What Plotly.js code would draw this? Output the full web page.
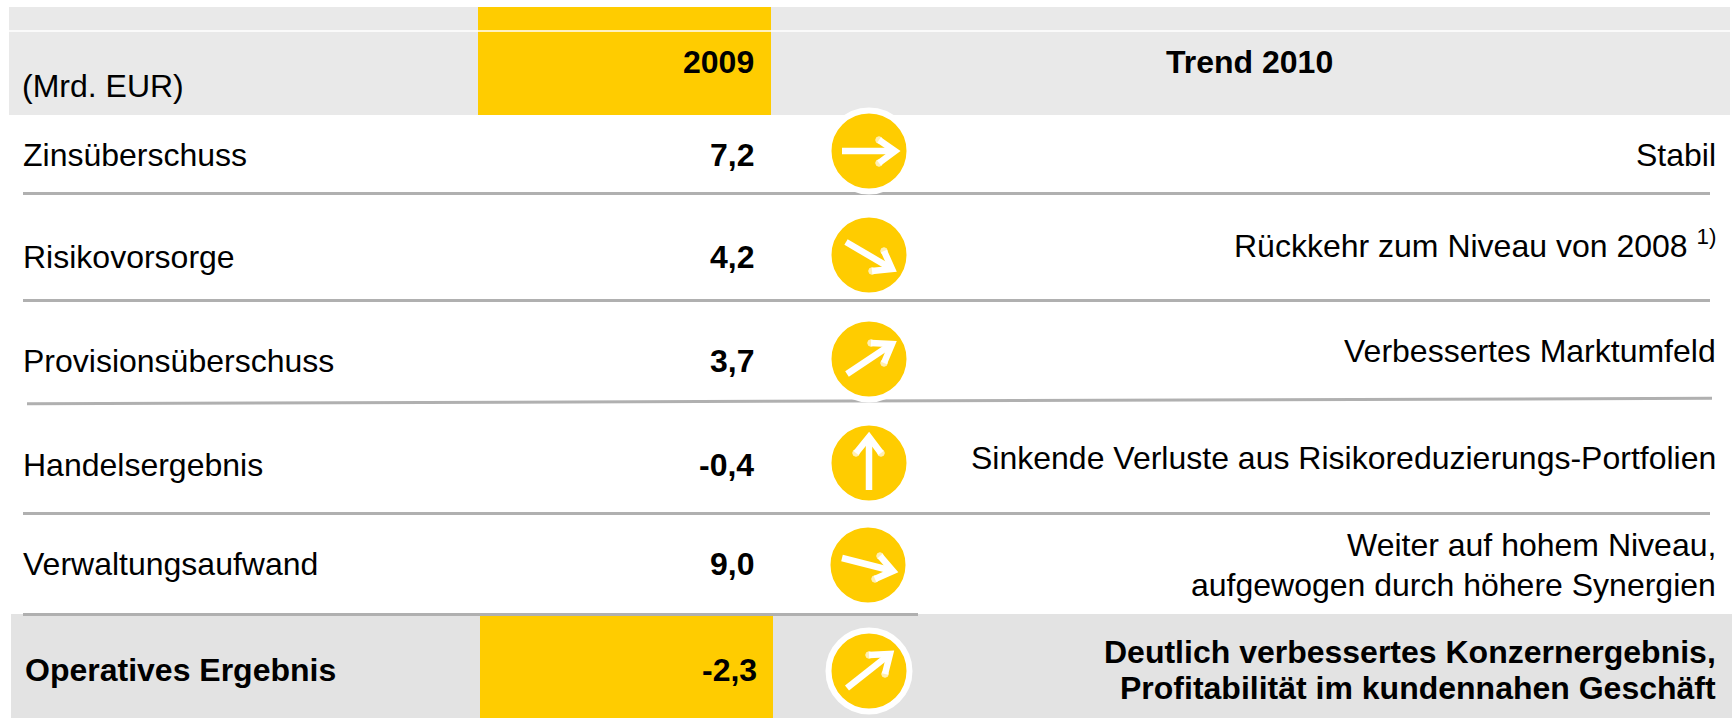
<!DOCTYPE html>
<html><head><meta charset="utf-8">
<script src="https://cdn.plot.ly/plotly-3.0.1.min.js"></script>
<style>html,body{margin:0;padding:0;background:#fff}#c{width:1732px;height:718px}</style>
</head><body><div id="c"></div>
<script>
// Content
const rowLabels = ["Zinsüberschuss","Risikovorsorge","Provisionsüberschuss","Handelsergebnis","Verwaltungsaufwand","Operatives Ergebnis"];
const values2009 = ["7,2","4,2","3,7","-0,4","9,0","-2,3"];
const trendLines = [["Stabil"],["Rückkehr zum Niveau von 2008 <sup>1)</sup>"],["Verbessertes Marktumfeld"],
  ["Sinkende Verluste aus Risikoreduzierungs-Portfolien"],["Weiter auf hohem Niveau,","aufgewogen durch höhere Synergien"],
  ["<b>Deutlich verbessertes Konzernergebnis,</b>","<b>Profitabilität im kundennahen Geschäft</b>"]];
const headerUnit = "(Mrd. EUR)", headerYear = "2009", headerTrend = "Trend 2010";

// Layout (pixel-scale axes)
const labelY = [155,257,361,465,564,670];
const valueY = [155,257,361,465,564,670];
const trendY = [[155],[244],[351],[458],[544.5,585],[652,688]];
const circleX = [869,869,869,869,868,869];
const circleY = [151,255,359,463,565,671];
// arrows
const arrowTailX=[842,846,847,869,842,847], arrowTailY=[151,242,374,490,558,688];
const arrowTipX =[895,892,892,869,893,890], arrowTipY =[151,269,344,437,571,654];
const headAX=[879,884,871,856,880,869], headAY=[140,251,343,453,556,655];
const headBX=[879,872,884,881,875,885], headBY=[163,271,363,453,579,674];
const GOLD="#ffcc00", GREY="#e9e9e9", GREY2="#e3e3e3", RULE="#b0b0b0";

const rect=(x0,y0,x1,y1,c)=>({type:"rect",layer:"below",x0,y0,x1,y1,fillcolor:c,line:{width:0}});
const rule=(x0,x1,y0,y1)=>({type:"line",layer:"below",x0,x1,y0,y1,line:{color:RULE,width:3}});
const shapes=[
 rect(9,7,1730,115,GREY), rect(478,7,771,115,GOLD),
 {type:"line",layer:"below",x0:9,x1:1730,y0:31,y1:31,line:{color:"#fff",width:1.5}},
 rect(11,614,1732,718,GREY2), rect(480,616,773,718,GOLD),
 rule(23,1710,193.5,193.5), rule(23,1710,300.5,300.5), rule(27,1712,403.7,398.3), rule(23,1710,513.5,513.5), rule(23,918,614.5,614.5)
];
const txt=(text,x,y,anchor,opts)=>Object.assign({text,x,y,xref:"x",yref:"y",xanchor:anchor,yanchor:"middle",align:anchor,showarrow:false,
  font:{family:"Liberation Sans, Arial, sans-serif",size:32,color:"#000"},borderpad:0,borderwidth:0},opts||{});
const ann=[
 txt(headerUnit,22,86,"left"),
 txt("<b>"+headerYear+"</b>",754,62,"right"),
 txt("<b>"+headerTrend+"</b>",1249,62,"center"),
];
rowLabels.forEach((l,i)=>ann.push(txt(i===5?"<b>"+l+"</b>":l, i===5?25:23, labelY[i],"left")));
values2009.forEach((v,i)=>ann.push(txt("<b>"+v+"</b>", i===5?757:754, valueY[i],"right")));
trendLines.forEach((ls,i)=>ls.forEach((t,j)=>ann.push(txt(t,1715.5,trendY[i][j],"right"))));

const traces=[{type:"scatter",mode:"markers",x:circleX,y:circleY,hoverinfo:"skip",
  marker:{size:81,color:GOLD,line:{color:"#fff",width:6}}}];
rowLabels.forEach((_,i)=>{
  traces.push({type:"scatter",mode:"lines",hoverinfo:"skip",x:[arrowTailX[i],arrowTipX[i]],y:[arrowTailY[i],arrowTipY[i]],
    line:{color:"#fff",width:6.5}});
  traces.push({type:"scatter",mode:"lines+markers",hoverinfo:"skip",x:[headAX[i],arrowTipX[i],headBX[i]],y:[headAY[i],arrowTipY[i],headBY[i]],
    line:{color:"#fff",width:6.5},marker:{color:"#fff",size:[6.5,0,6.5]}});
});
Plotly.newPlot("c",traces,{
  width:1732,height:718,margin:{l:0,r:0,t:0,b:0},paper_bgcolor:"#fff",plot_bgcolor:"rgba(0,0,0,0)",showlegend:false,
  xaxis:{range:[0,1732],visible:false,fixedrange:true},
  yaxis:{range:[718,0],visible:false,fixedrange:true},
  shapes,annotations:ann
},{displayModeBar:false,staticPlot:true});
</script></body></html>
